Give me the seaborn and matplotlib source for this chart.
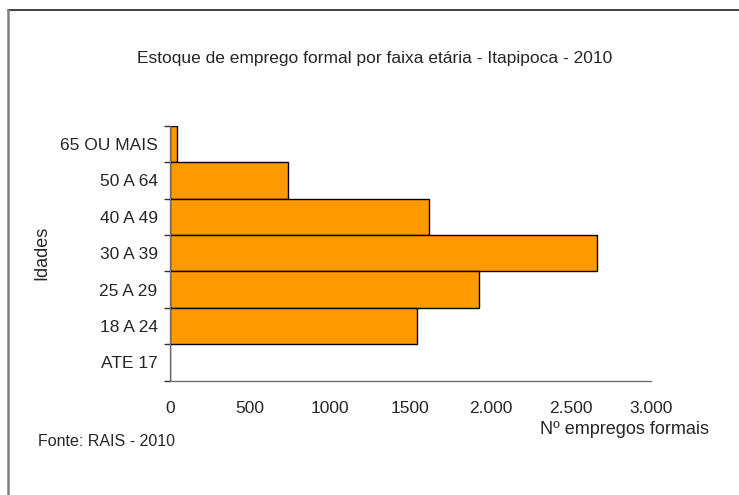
import pandas as pd
import matplotlib.pyplot as plt
import seaborn as sns
from matplotlib.lines import Line2D
from matplotlib.ticker import FixedLocator

# Data
faixas = ['65 OU MAIS', '50 A 64', '40 A 49', '30 A 39', '25 A 29', '18 A 24', 'ATE 17']
empregos = [46, 734, 1614, 2664, 1928, 1541, 0]
xticks = [0, 500, 1000, 1500, 2000, 2500, 3000]
xtick_labels = ['0', '500', '1000', '1500', '2.000', '2.500', '3.000']

df = pd.DataFrame({'faixa': faixas, 'empregos': empregos})

sns.set_style('white')
plt.rcParams['font.family'] = ['Liberation Sans', 'DejaVu Sans']

fig = plt.figure(figsize=(7.39, 4.95), dpi=100)
ax = fig.add_axes([170 / 739, 1 - 380.7 / 495, 481 / 739, 255 / 495])

sns.barplot(data=df, x='empregos', y='faixa', order=faixas, orient='h',
            color='#FF9900', saturation=1, width=1, edgecolor='black',
            linewidth=1, ax=ax)

ax.set_xlim(0, 3000)
ax.set_ylim(len(faixas) - 0.5, -0.5)

# spines
for s in ['top', 'right']:
    ax.spines[s].set_visible(False)
for s in ['left', 'bottom']:
    ax.spines[s].set_color('#707070')
    ax.spines[s].set_linewidth(1)

# x ticks
ax.set_xticks(xticks)
ax.set_xticklabels(xtick_labels, fontsize=12.5)
ax.tick_params(axis='x', direction='out', length=4.5, width=1, color='#555555',
               pad=10)

# y ticks: labels in the middle, marks on the boundaries
ax.set_yticks(range(len(faixas)))
ax.set_yticklabels(faixas, fontsize=12.5)
ax.tick_params(axis='y', which='major', length=0, pad=9)
ax.yaxis.set_minor_locator(FixedLocator([i - 0.5 for i in range(len(faixas) + 1)]))
ax.tick_params(axis='y', which='minor', direction='out', length=4.5, width=1,
               color='#333333', left=True)

ax.set_xlabel('')
ax.set_ylabel('Idades', fontsize=13)
ax.yaxis.set_label_coords((50 - 170) / 481, 0.5)

fig.text(375 / 739, 1 - 58 / 495, 'Estoque de emprego formal por faixa etária - Itapipoca - 2010',
         ha='center', va='center', fontsize=12.5)
fig.text(625 / 739, 1 - 430 / 495, 'Nº empregos formais', ha='center', va='center',
         fontsize=13)
fig.text(38 / 739, 1 - 441 / 495, 'Fonte: RAIS - 2010', ha='left', va='center',
         fontsize=11.5)

# chart border (only top and left are visible in the picture)
fig.add_artist(Line2D([8 / 739, 1], [1 - 10 / 495, 1 - 10 / 495], color='#222222',
                      linewidth=1.2, transform=fig.transFigure))
fig.add_artist(Line2D([8 / 739, 8 / 739], [0, 1 - 10 / 495], color='#808080',
                      linewidth=1.8, transform=fig.transFigure))

fig.savefig('out.png', dpi=100)
